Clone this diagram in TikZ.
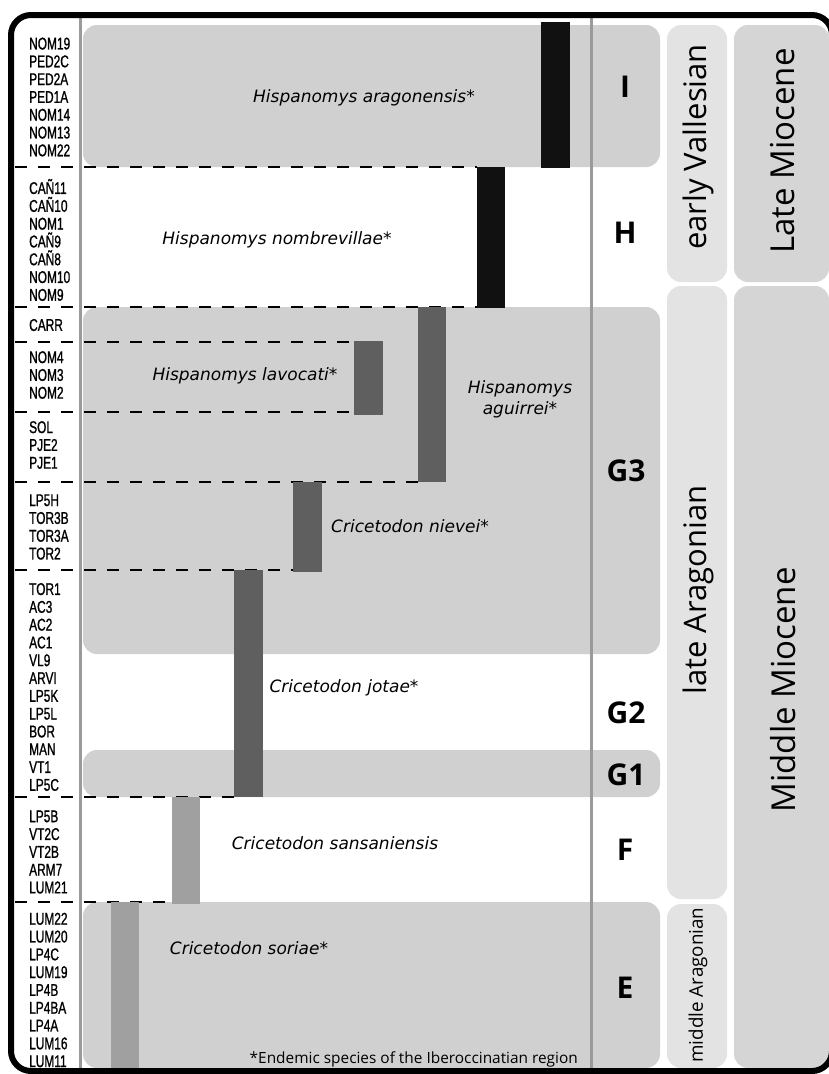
\documentclass[tikz,border=0pt]{standalone}
\usepackage{fontspec}
\setmainfont{Open Sans}
\newfontfamily\sitefont[FakeStretch=0.7, FakeBold=1]{Liberation Sans}
\newfontfamily\taxonfont{DejaVu Sans}
\definecolor{zonegray}{RGB}{208,208,208}
\definecolor{stagegray}{RGB}{227,227,227}
\definecolor{epochgray}{RGB}{213,213,213}
\definecolor{barblack}{RGB}{17,17,17}
\definecolor{bardark}{RGB}{95,95,95}
\definecolor{barlight}{RGB}{160,160,160}
\definecolor{rulegray}{RGB}{154,154,154}
\begin{document}
\begin{tikzpicture}[x=1pt, y=-1pt,
    zone/.style={fill=zonegray, rounded corners=14pt},
    cut/.style={line width=1.8pt, dash pattern=on 12pt off 11pt},
    sites/.style={anchor=west, align=left, inner sep=0pt,
      font=\sitefont\fontsize{17}{17.8}\selectfont},
    species/.style={inner sep=0pt, align=center,
      font=\taxonfont\itshape\fontsize{17}{21}\selectfont},
    zlab/.style={inner sep=0pt, font=\bfseries\fontsize{30}{30}\selectfont},
    stage/.style={rotate=90, inner sep=0pt, font=\fontsize{31}{31}\selectfont}]
    \useasboundingbox (0,0) rectangle (829,1074);
    % biozones
    \fill[zone] (83,25) rectangle (660,167);
    \fill[zone] (83,307) rectangle (660,654);
    \fill[zone] (83,750) rectangle (660,797);
    \fill[zone] (83,902) rectangle (660,1068);
    % stages and epochs
    \fill[zone, fill=stagegray] (667,25) rectangle (727,282);
    \fill[zone, fill=stagegray] (667,286) rectangle (727,899);
    \fill[zone, fill=stagegray] (667,904) rectangle (727,1068);
    \fill[zone, fill=epochgray] (734,25) rectangle (829,282);
    \fill[zone, fill=epochgray] (734,286) rectangle (829,1068);
    % level boundaries
    \draw[cut] (15,167) -- (477,167);
    \draw[cut] (15,307) -- (477,307);
    \draw[cut] (15,342) -- (354,342);
    \draw[cut] (15,412) -- (354,412);
    \draw[cut] (15,482) -- (418,482);
    \draw[cut] (15,570) -- (293,570);
    \draw[cut] (15,797) -- (234,797);
    \draw[cut] (15,902) -- (172,902);
    % ranges
    \fill[barblack] (541,22) rectangle (570,168);
    \fill[barblack] (477,167) rectangle (505,308);
    \fill[bardark] (418,307) rectangle (446,482);
    \fill[bardark] (354,341) rectangle (383,415);
    \fill[bardark] (293,482) rectangle (322,572);
    \fill[bardark] (234,570) rectangle (263,797);
    \fill[barlight] (172,797) rectangle (200,904);
    \fill[barlight] (111,902) rectangle (139,1068);
    \draw[rulegray, line width=3pt] (80,15) -- (80,1071);
    \draw[rulegray, line width=3pt] (591,15) -- (591,1071);
    \draw[line width=6pt, rounded corners=20pt] (11,15) rectangle (832,1071);
    % localities
    \node[sites] (sI) at (29,97) {NOM19\\PED2C\\PED2A\\PED1A\\NOM14\\NOM13\\NOM22};
    \node[sites] (sH) at (29,240) {CAÑ11\\CAÑ10\\NOM1\\CAÑ9\\CAÑ8\\NOM10\\NOM9};
    \node[sites] (sCarr) at (29,325) {CARR};
    \node[sites] (sNom) at (29,375) {NOM4\\NOM3\\NOM2};
    \node[sites] (sSol) at (29,445) {SOL\\PJE2\\PJE1};
    \node[sites] (sTor) at (29,527) {LP5H\\TOR3B\\TOR3A\\TOR2};
    \node[sites] (sG) at (29,687) {TOR1\\AC3\\AC2\\AC1\\VL9\\ARVI\\LP5K\\LP5L\\BOR\\MAN\\VT1\\LP5C};
    \node[sites] (sF) at (29,852) {LP5B\\VT2C\\VT2B\\ARM7\\LUM21};
    \node[sites] (sE) at (29,990) {LUM22\\LUM20\\LP4C\\LUM19\\LP4B\\LP4BA\\LP4A\\LUM16\\LUM11};
    % taxa
    \node[species] (aragon) at (364,98) {Hispanomys aragonensis*};
    \node[species] (nombre) at (277,240) {Hispanomys nombrevillae*};
    \node[species] (lavoc) at (245,376) {Hispanomys lavocati*};
    \node[species] (aguir) at (520,399) {Hispanomys\\aguirrei*};
    \node[species] (niev) at (410,526) {Cricetodon nievei*};
    \node[species] (jotae) at (344,688) {Cricetodon jotae*};
    \node[species] (sansa) at (335,843) {Cricetodon sansaniensis};
    \node[species] (soriae) at (249,948) {Cricetodon soriae*};
    \node[anchor=east, inner sep=0pt, font=\fontsize{15.4}{15.4}\selectfont] (note) at (578,1059)
      {*Endemic species of the Iberoccinatian region};
    % zones
    \node[zlab] (zI) at (625,87) {I};
    \node[zlab] (zH) at (625,233) {H};
    \node[zlab] (zG3) at (626,471) {G3};
    \node[zlab] (zG2) at (626,713) {G2};
    \node[zlab] (zG1) at (626,775) {G1};
    \node[zlab] (zF) at (625,850) {F};
    \node[zlab] (zE) at (625,988) {E};
    % stages, epochs
    \node[stage] (eVal) at (698,147) {early Vallesian};
    \node[stage] (lAra) at (698,590) {late Aragonian};
    \node[stage, font=\fontsize{18.8}{18.8}\selectfont] (mAra) at (698,985) {middle Aragonian};
    \node[stage, font=\fontsize{33}{33}\selectfont] (lMio) at (783,151) {Late Miocene};
    \node[stage, font=\fontsize{33}{33}\selectfont] (mMio) at (783,690) {Middle Miocene};
\end{tikzpicture}
\end{document}
